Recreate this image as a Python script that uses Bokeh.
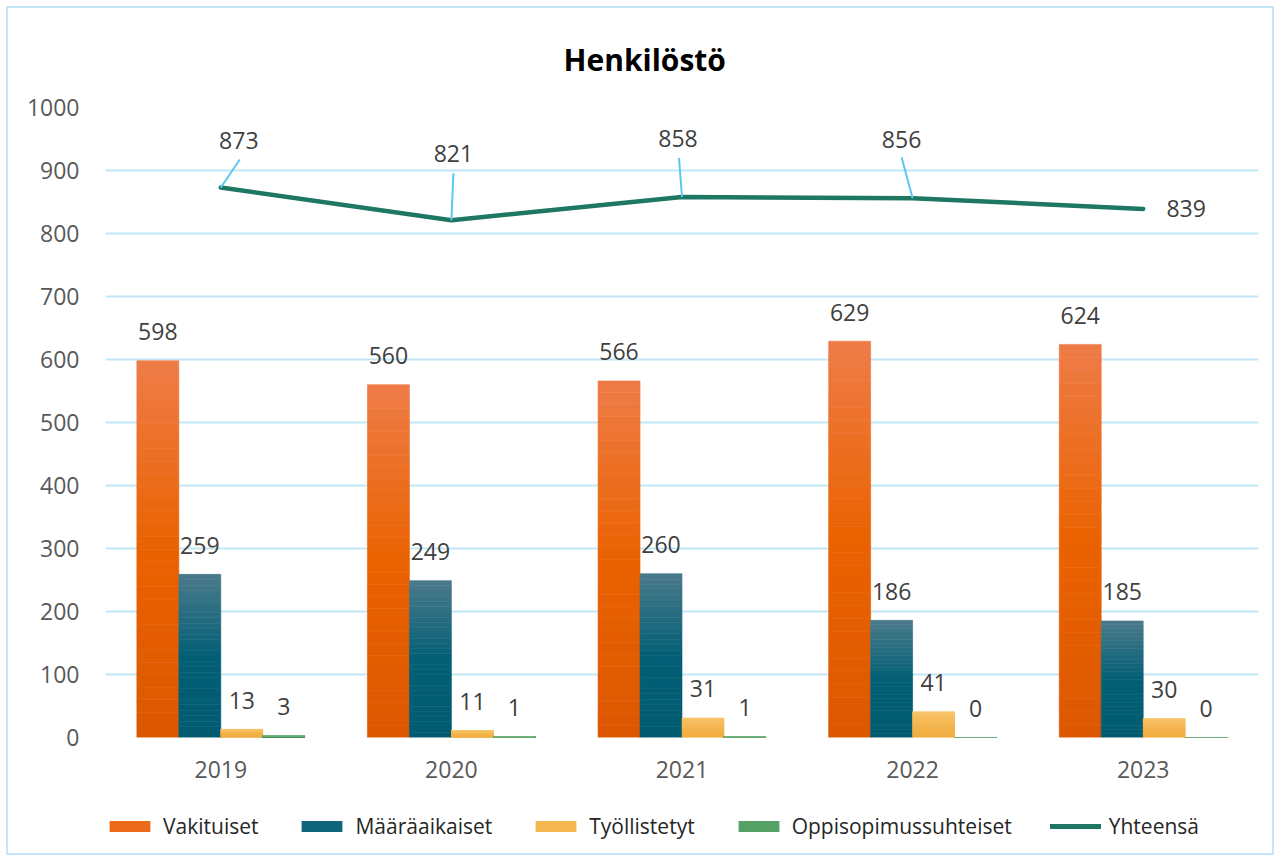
import numpy as np
from bokeh.plotting import figure
from bokeh.layouts import column
from bokeh.models import ColumnDataSource, FixedTicker, Legend, LegendItem, Range1d
from bokeh.core.properties import value
from bokeh.embed import file_html
from bokeh.resources import INLINE

# ---------------- data ----------------
years = ["2019", "2020", "2021", "2022", "2023"]
vakituiset = [598, 560, 566, 629, 624]
maaraaikaiset = [259, 249, 260, 186, 185]
tyollistetyt = [13, 11, 31, 41, 30]
oppisopimus = [3, 1, 1, 0, 0]
yhteensa = [873, 821, 858, 856, 839]
series_names = ["Vakituiset", "Määräaikaiset", "Työllistetyt", "Oppisopimussuhteiset"]
total_name = "Yhteensä"
y_ticks = [0, 100, 200, 300, 400, 500, 600, 700, 800, 900, 1000]

# ---------------- style ----------------
FONT = "Open Sans"
bar_offsets = [-0.273, -0.091, 0.091, 0.273]
bar_width = 0.182
# (top / light, middle / base, bottom / dark)
grad = [
    ("#EE7C48", "#EA6200", "#DC5700"),
    ("#4A7A8B", "#035F75", "#005B71"),
    ("#F7C264", "#F4B44C", "#F0AA3A"),
    ("#74B57F", "#4E9A5E", "#458F55"),
]
legend_colors = ["#EB6A1A", "#0E6479", "#F5B851", "#55A064"]
line_color = "#1D7763"
leader_color = "#5CC6F3"
grid_color = "#C2E8F8"
border_css = "2px solid #C4E7F7"

# label offsets for totals in pixels (dx right, dy up)
tot_lbl_dx = [18, 2, -4, -11, 43]
tot_lbl_dy = [47, 67, 58, 59, 0]
lead_dx = [19, 2, -3, -11, 0]
lead_dy = [28, 47, 39, 41, 0]

W = 1268
ML, MR, MT, MB = 97, 18, 99, 60
FW, FH = W - ML - MR, 630
H1 = MT + FH + MB
H2 = 60
PXX = FW / 5.0
PXY = FH / 1000.0

p = figure(width=W, height=H1, x_range=Range1d(-0.5, 4.5), y_range=Range1d(0, 1000),
           output_backend="svg", toolbar_location=None,
           min_border_left=ML, min_border_right=MR, min_border_top=MT, min_border_bottom=MB,
           background_fill_color="white", border_fill_color="white", outline_line_color=None)
p.styles = {"border-top": border_css, "border-left": border_css, "border-right": border_css}

# title
p.title.text = "Henkilöstö"
p.title.align = "left"
p.title.text_font = FONT
p.title.text_font_size = "30px"
p.title.text_font_style = "bold"
p.title.text_color = "#000000"
p.title.standoff = 56
p.title.offset = 458

# axes
p.yaxis.ticker = FixedTicker(ticks=y_ticks)
p.xaxis.ticker = FixedTicker(ticks=list(range(len(years))))
p.xaxis.major_label_overrides = {i: y for i, y in enumerate(years)}
for ax in (p.xaxis, p.yaxis):
    ax.axis_line_color = None
    ax.major_tick_line_color = None
    ax.minor_tick_line_color = None
    ax.major_label_text_font = FONT
    ax.major_label_text_font_size = "23px"
    ax.major_label_text_color = "#595959"
p.yaxis.major_label_standoff = 20
p.xaxis.major_label_standoff = 17
p.xgrid.grid_line_color = None
p.ygrid.grid_line_color = grid_color
p.ygrid.grid_line_width = 2


def hex2rgb(h):
    return np.array([int(h[i:i + 2], 16) for i in (1, 3, 5)], dtype=float)


def rgb2hex(c):
    return "#%02x%02x%02x" % tuple(int(round(v)) for v in c)


K = 30
all_vals = [vakituiset, maaraaikaiset, tyollistetyt, oppisopimus]
xs = np.arange(len(years))
for s, vals in enumerate(all_vals):
    light, base, dark = (hex2rgb(c) for c in grad[s])
    bx, bb, bt, bc = [], [], [], []
    for i, v in enumerate(vals):
        for k in range(K):
            pos = (k + 0.5) / K
            if pos >= 0.5:
                c = base + (light - base) * (pos - 0.5) / 0.5
            else:
                c = base + (dark - base) * (0.5 - pos) / 0.5
            bx.append(xs[i] + bar_offsets[s])
            bb.append(v * k / K)
            bt.append(v * (k + 1) / K)
            bc.append(rgb2hex(c))
    src = ColumnDataSource(dict(x=bx, bottom=bb, top=bt, color=bc))
    p.vbar(x="x", bottom="bottom", top="top", width=bar_width, source=src,
           fill_color="color", line_color="color", line_width=0.6)
    lsrc = ColumnDataSource(dict(x=xs + bar_offsets[s], y=vals, t=[str(v) for v in vals]))
    p.text(x="x", y="y", text="t", source=lsrc, text_align="center", text_baseline="middle",
           y_offset=-29, text_font=value(FONT), text_font_size="23px", text_color="#404040")

# total line
p.line(x=xs, y=yhteensa, line_color=line_color, line_width=4.5, line_cap="round", line_join="round")

# leader lines
lx0, ly0, lx1, ly1 = [], [], [], []
for i, v in enumerate(yhteensa):
    if lead_dy[i] == 0 and lead_dx[i] == 0:
        continue
    lx0.append(xs[i]); ly0.append(v)
    lx1.append(xs[i] + lead_dx[i] / PXX); ly1.append(v + lead_dy[i] / PXY)
p.segment(x0=lx0, y0=ly0, x1=lx1, y1=ly1, line_color=leader_color, line_width=2)

tsrc = ColumnDataSource(dict(x=xs, y=yhteensa, t=[str(v) for v in yhteensa],
                             dx=tot_lbl_dx, dy=[-d for d in tot_lbl_dy]))
p.text(x="x", y="y", text="t", source=tsrc, x_offset="dx", y_offset="dy",
       text_align="center", text_baseline="middle",
       text_font=value(FONT), text_font_size="23px", text_color="#404040")

# ---------------- legend strip ----------------
lf = figure(width=W, height=H2, x_range=Range1d(0, 1), y_range=Range1d(0, 1),
            x_axis_type=None, y_axis_type=None, output_backend="svg", toolbar_location=None,
            min_border=0, outline_line_color=None, background_fill_color="white",
            border_fill_color="white")
lf.grid.visible = False
lf.styles = {"border-bottom": border_css, "border-left": border_css, "border-right": border_css}

items = []
for s, name in enumerate(series_names):
    r = lf.vbar(x=[0], top=[0], bottom=[0], width=0.0, fill_color=legend_colors[s],
                line_color=None)
    items.append(LegendItem(label=name, renderers=[r]))
rl = lf.line(x=[0], y=[0], line_color=line_color, line_width=5, line_cap="round")
items.append(LegendItem(label=total_name, renderers=[rl]))
legend = Legend(items=items, orientation="horizontal", location=(-1, 15),
                glyph_width=51, glyph_height=14, label_standoff=8, spacing=38,
                padding=0, margin=0, border_line_color=None, background_fill_alpha=0,
                label_text_font=FONT, label_text_font_size="21px",
                label_text_color="#262626")
lf.add_layout(legend, "center")

layout = column(p, lf, spacing=0, styles={"margin-left": "6px", "margin-top": "6px"})

open("out.html", "w").write(file_html(layout, INLINE))
